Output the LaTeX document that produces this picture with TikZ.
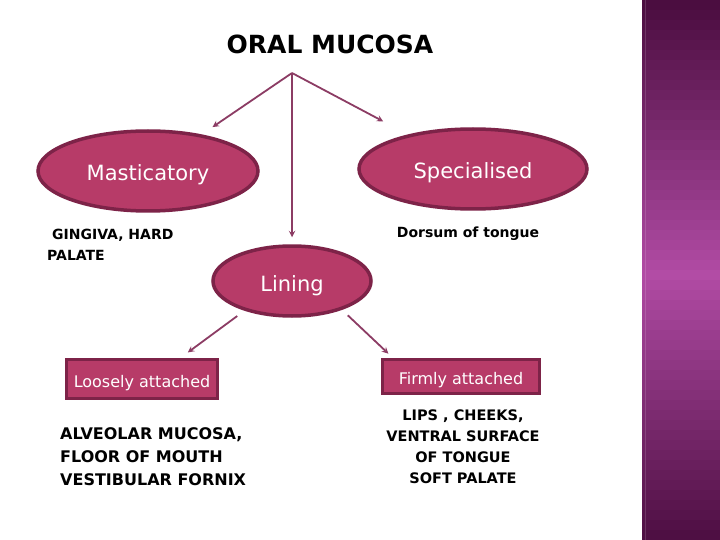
\documentclass[tikz,border=0pt]{standalone}
\usepackage{fontspec}
\setmainfont{DejaVu Sans}
\usepackage{tikz}
\usetikzlibrary{shapes.geometric,calc}
\definecolor{rosefill}{HTML}{B73B68}
\definecolor{roseline}{HTML}{7D2348}
\definecolor{arrowcol}{HTML}{8C3C64}
\definecolor{bandtop}{HTML}{4B0D40}
\definecolor{bandmid}{HTML}{B24CA5}
\newcommand{\lowered}[2][10pt]{\raisebox{-#1}[0pt][0pt]{#2}}

\begin{document}
\begin{tikzpicture}[x=1pt, y=-1pt, >=stealth,
		oval/.style={ellipse, fill=rosefill, draw=roseline, line width=3.5pt, text=white, inner sep=0pt, font=\fontsize{21}{25}\selectfont},
		tag/.style={rectangle, fill=rosefill, draw=roseline, line width=3.5pt, text=white, inner sep=0pt, font=\fontsize{16}{19}\selectfont},
		lbl/.style={inner sep=0pt, font=\bfseries\fontsize{14}{21}\selectfont},
		arr/.style={->, draw=arrowcol, line width=1.8pt}]
		\useasboundingbox (0,0) rectangle (720,540);
		\fill[white] (0,0) rectangle (720,540);
		% side band, dark at both ends and light in the middle
		\foreach \i in {0,...,53} {
			\pgfmathtruncatemacro\mix{100-abs(\i-27)*100/27}
			\fill[bandmid!\mix!bandtop] (642,\i*10) rectangle (720,\i*10+10.5);
		}
		\draw[white, opacity=0.15, line width=1pt] (645,0) -- (645,540);
		% title and the three kinds
		\node[font=\bfseries\fontsize{25}{30}\selectfont] (title) at (330,44) {ORAL MUCOSA};
		\coordinate (hub) at (292,73);
		\node[oval, minimum width=220pt, minimum height=80pt] (mast) at (148,171) {\lowered{Masticatory}};
		\node[oval, minimum width=228pt, minimum height=80pt] (spec) at (473,169) {\lowered{Specialised}};
		\node[oval, minimum width=158pt, minimum height=70pt] (lining) at (292,281) {\lowered{Lining}};
		\draw[arr, shorten >=13pt] (hub) -- (mast);
		\draw[arr, shorten >=28pt] (hub) -- (spec);
		\draw[arr, shorten >=7pt] (hub) -- (lining);
		% examples
		\node[lbl, anchor=west, align=left] (ging) at (47,244.5) {\hspace*{5pt}GINGIVA, HARD\\PALATE};
		\node[lbl] (dors) at (468,234) {Dorsum of tongue};
		% lining split
		\node[tag, minimum width=151pt, minimum height=39pt] (loose) at (142,379) {\lowered[8.5pt]{Loosely attached}};
		\node[tag, minimum width=157pt, minimum height=34pt] (firm) at (461,376.5) {\lowered[8pt]{Firmly attached}};
		\draw[arr, shorten <=9pt, shorten >=9pt] (lining.-148) -- ($(loose.north)!0.5!(loose.north east)$);
		\draw[arr, shorten <=8pt, shorten >=6pt] (lining.-30) -- ([xshift=12pt]firm.north west);
		\node[lbl, anchor=west, align=left, font=\bfseries\fontsize{16}{23}\selectfont] (alv) at (60,457) {ALVEOLAR MUCOSA,\\FLOOR OF MOUTH\\VESTIBULAR FORNIX};
		\node[lbl, align=center, font=\bfseries\fontsize{14.5}{21}\selectfont] (lips) at (463,447) {LIPS , CHEEKS,\\VENTRAL SURFACE\\OF TONGUE\\SOFT PALATE};
	\end{tikzpicture}
\end{document}
